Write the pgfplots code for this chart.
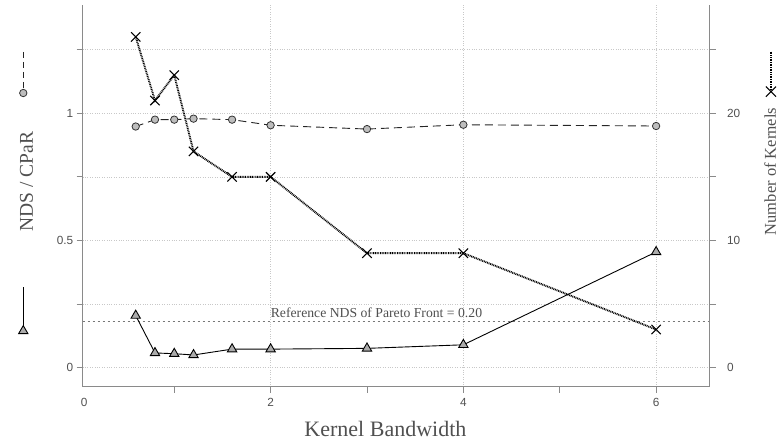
\documentclass[border=0pt]{standalone}
\usepackage{fontspec}
\setmainfont{Liberation Serif}
\newfontfamily\tickfont{Liberation Sans}
\usepackage{pgfplots}
\pgfplotsset{compat=1.18}
\usetikzlibrary{shapes.geometric,shapes.misc}
\definecolor{spine}{HTML}{8A8A8A}
\definecolor{txt}{HTML}{505050}
\definecolor{gridc}{HTML}{C8C8C8}
\definecolor{mfill}{HTML}{BDBDBD}
\definecolor{tfill}{HTML}{ABABAB}
\definecolor{refc}{HTML}{777777}

\pgfplotsset{
 common/.style={
  scale only axis, width=626.8pt, height=381.7pt, at={(0,0)}, anchor=south west,
  xmin=0.05, xmax=6.554,
  axis line style={spine, line width=0.9pt},
  tick style={spine, line width=0.9pt},
  tick align=outside,
  major tick length=6pt, minor tick length=6pt,
  tick label style={font=\tickfont\fontsize{11.8}{13}\selectfont, text=txt},
  /pgf/number format/assume math mode=true,
  clip=false,
 }
}

\begin{document}
\begin{tikzpicture}
\path[use as bounding box] (-82.7pt,-57.3pt) rectangle (698.3pt,386.7pt);

\begin{axis}[common,
 axis x line*=bottom, axis y line*=left,
 ymin=-0.0747, ymax=1.4257,
 xtick={2,4,6}, minor xtick={1,3,5},
 ytick={0,0.5,1}, minor ytick={0.25,0.75,1.25},
 xmajorgrids, ymajorgrids, yminorgrids,
 major grid style={gridc, dotted, line width=0.6pt},
 minor grid style={gridc, dotted, line width=0.6pt},
 x tick label style={yshift=-2pt},
 extra x ticks={0.065}, extra x tick labels={0},
 extra x tick style={grid=none, major tick style={draw=none}},
]
% reference line
\addplot[refc, dash pattern=on 2.5pt off 2.5pt, line width=1pt] coordinates {(0.05,0.18) (6.554,0.18)};
\node[anchor=base west, inner sep=0, font=\fontsize{13.7}{16}\selectfont, text=txt] at (axis cs:2,0.1965) {Reference NDS of Pareto Front = 0.20};

% NDS (circles, dashed)
\addplot[black!85, line width=0.9pt, dash pattern=on 8pt off 5pt,
  mark=*, mark size=3.7pt, mark options={solid, fill=mfill, draw=black!80, line width=0.8pt}]
 coordinates {(0.6,0.948) (0.8,0.975) (1.0,0.975) (1.2,0.979) (1.6,0.975) (2,0.953) (3,0.938) (4,0.955) (6,0.950)};

% CPaR (triangles, solid)
\addplot[black, line width=0.9pt,
  mark=triangle*, mark size=5.4pt, mark options={solid, fill=tfill, draw=black, line width=0.9pt}]
 coordinates {(0.6,0.205) (0.8,0.058) (1.0,0.055) (1.2,0.050) (1.6,0.073) (2,0.073) (3,0.076) (4,0.090) (6,0.455)};

% left label decorations
\draw[black!85, line width=0.9pt, dash pattern=on 6pt off 4pt] (axis description cs:-0.0948,0.877) -- (axis description cs:-0.0948,0.7694);
\node[circle, draw=black!80, fill=mfill, line width=0.8pt, inner sep=0, minimum size=7.4pt] at (axis description cs:-0.0948,0.7694) {};
\draw[black, line width=0.9pt] (axis description cs:-0.0948,0.2604) -- (axis description cs:-0.0948,0.146);
\node[regular polygon, regular polygon sides=3, draw=black, fill=tfill, line width=0.9pt, inner sep=0, minimum size=10.8pt] at (axis description cs:-0.0948,0.146) {};
\node[rotate=90, font=\fontsize{19.5}{22}\selectfont, text=txt] at (axis description cs:-0.0897,0.5376) {NDS / CPaR};

% x label
\node[anchor=base, font=\fontsize{22}{25}\selectfont, text=txt] at (axis description cs:0.483,-0.131) {Kernel Bandwidth};
\end{axis}

\begin{axis}[common,
 axis y line*=right, axis x line=none,
 ymin=-1.494, ymax=28.51,
 ytick={0,10,20}, minor ytick={5,15,25},
 y tick label style={xshift=8pt},
]
\addplot[black, line width=1.9pt, dash pattern=on 0.9pt off 0.8pt,
  mark=x, mark size=6.6pt, mark options={solid, black, line width=1.1pt}]
 coordinates {(0.6,26) (0.8,21) (1.0,23) (1.2,17) (1.6,15) (2,15) (3,9) (4,9) (6,3)};

\draw[black, line width=1.9pt, dash pattern=on 0.9pt off 0.8pt] (axis description cs:1.098,0.8775) -- (axis description cs:1.098,0.773);
\node[cross out, draw=black, line width=1.1pt, inner sep=0, minimum size=9pt] at (axis description cs:1.098,0.773) {};
\node[rotate=90, font=\fontsize{16.5}{19}\selectfont, text=txt] at (axis description cs:1.0966,0.5638) {Number of Kernels};
\end{axis}
\end{tikzpicture}
\end{document}
